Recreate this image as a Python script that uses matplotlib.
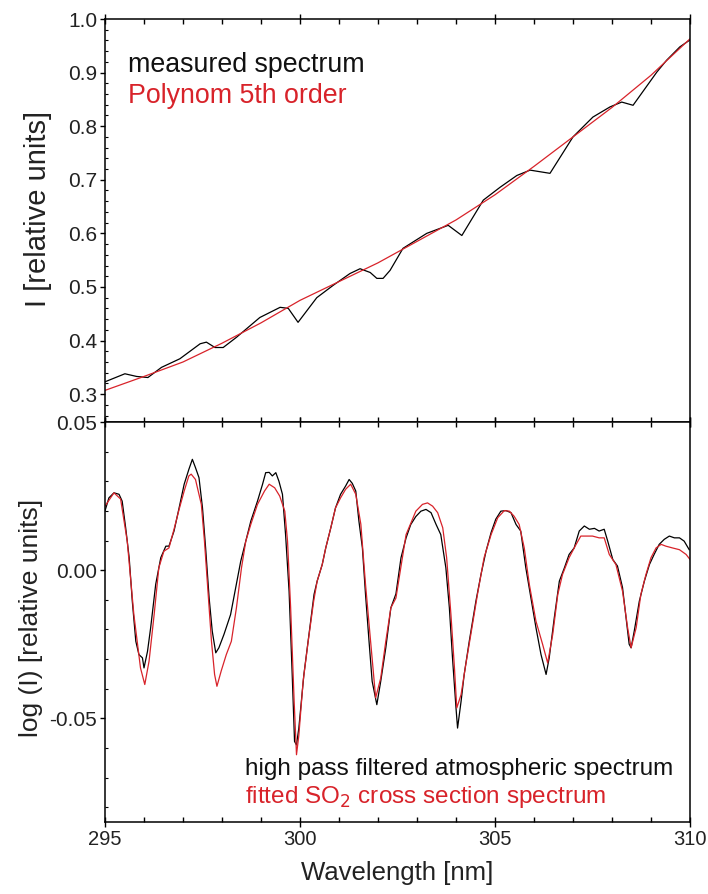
#!/usr/bin/env python3
import matplotlib
matplotlib.use('Agg')
import matplotlib.pyplot as plt
from matplotlib.ticker import MultipleLocator, FormatStrFormatter

plt.rcParams['font.family'] = ['Liberation Sans', 'DejaVu Sans']
plt.rcParams['axes.unicode_minus'] = False

RED = '#d8232a'

# top panel: measured spectrum and 5th order polynomial
meas_wl = [295.0, 295.51, 295.81, 296.1, 296.45, 296.92, 297.44, 297.6, 297.82,
           298.03, 298.37, 298.97, 299.49, 299.7, 299.95, 300.43, 300.85, 301.28,
           301.54, 301.8, 301.97, 302.13, 302.31, 302.64, 303.25, 303.8, 304.15,
           304.7, 305.13, 305.56, 305.9, 306.41, 307.0, 307.51, 307.95, 308.25,
           308.54, 309.15, 309.4, 309.74, 310.0]
meas_i = [0.323, 0.338, 0.333, 0.331, 0.350, 0.366, 0.394, 0.397, 0.387,
          0.387, 0.406, 0.443, 0.462, 0.460, 0.434, 0.480, 0.503, 0.525,
          0.534, 0.527, 0.516, 0.516, 0.531, 0.572, 0.600, 0.615, 0.596,
          0.662, 0.686, 0.708, 0.718, 0.712, 0.780, 0.817, 0.836, 0.845,
          0.839, 0.901, 0.923, 0.948, 0.961]

poly_wl = [295, 296, 297, 298, 299, 300, 301, 302, 303, 304, 305, 306, 307, 308, 309, 310]
poly_i = [0.307, 0.333, 0.360, 0.395, 0.433, 0.475, 0.510, 0.545, 0.585, 0.625,
          0.672, 0.725, 0.780, 0.835, 0.895, 0.963]

# bottom panel: high pass filtered atmospheric spectrum
atm_wl = [295.0, 295.1, 295.23, 295.36, 295.44, 295.53, 295.62, 295.7, 295.79, 295.87,
          295.96, 296.0, 296.09, 296.17, 296.3, 296.43, 296.56, 296.64, 296.77, 296.9,
          297.03, 297.15, 297.24, 297.32, 297.41, 297.5, 297.58, 297.67, 297.75, 297.84,
          297.92, 298.05, 298.22, 298.35, 298.48, 298.61, 298.74, 298.91, 299.04, 299.12,
          299.21, 299.29, 299.38, 299.46, 299.55, 299.63, 299.72, 299.8, 299.86, 299.91,
          299.97, 300.1, 300.23, 300.36, 300.44, 300.57, 300.66, 300.79, 300.91, 301.04,
          301.17, 301.26, 301.34, 301.43, 301.51, 301.6, 301.68, 301.77, 301.85, 301.97,
          302.07, 302.2, 302.33,
          302.46, 302.59, 302.72, 302.84, 302.97, 303.1, 303.23, 303.36, 303.49, 303.61,
          303.74, 303.83, 303.91, 304.0, 304.04, 304.13, 304.21, 304.34, 304.51, 304.64,
          304.77, 304.9, 305.02, 305.15, 305.28, 305.41, 305.54, 305.66, 305.79, 305.92,
          306.05, 306.18, 306.31, 306.39, 306.52, 306.65, 306.78, 306.9, 307.03, 307.16,
          307.29, 307.42, 307.55, 307.67, 307.8, 307.89, 308.02, 308.14, 308.27, 308.36,
          308.44, 308.49, 308.57, 308.7, 308.83, 308.96, 309.08, 309.21, 309.34, 309.47,
          309.6, 309.73, 309.85, 309.98]
atm_log = [0.020, 0.0244, 0.0261, 0.0256, 0.0233, 0.0143, 0.0042, -0.0105, -0.024, -0.0285,
           -0.0296, -0.033, -0.0274, -0.0195, -0.0048, 0.0042, 0.0081, 0.0081, 0.0132, 0.021,
           0.029, 0.034, 0.0374, 0.0346, 0.0312, 0.021, 0.0075, -0.0094, -0.0206, -0.0279,
           -0.0262, -0.0217, -0.015, -0.006, 0.003, 0.0098, 0.0166, 0.0233, 0.029, 0.0329,
           0.033, 0.0318, 0.0329, 0.030, 0.0256, 0.012, -0.0071, -0.0352, -0.0578, -0.059,
           -0.0533, -0.0352, -0.0217, -0.0082, -0.0037, 0.0019, 0.0075, 0.0143, 0.021, 0.0256,
           0.0284, 0.0306, 0.0293, 0.0267, 0.0166, 0.0075, -0.0082, -0.024, -0.0375, -0.0454,
           -0.0375, -0.0262, -0.0127,
           -0.008, 0.0042, 0.0109, 0.0154, 0.0181, 0.0199, 0.0205, 0.0194, 0.0154, 0.012,
           0.0008, -0.0127, -0.0296, -0.0465, -0.0533, -0.0443, -0.0352, -0.024, -0.0105, -0.0015,
           0.0064, 0.0127, 0.0172, 0.0199, 0.0201, 0.0194, 0.0154, 0.0132, 0.0008, -0.0094,
           -0.0194, -0.0285, -0.0352, -0.0296, -0.0161, -0.0037, 0.0008, 0.0053, 0.0075, 0.0132,
           0.0149, 0.0138, 0.0141, 0.0132, 0.0138, 0.0098, 0.0036, 0.0014, -0.0059, -0.0161,
           -0.025, -0.0262, -0.0206, -0.0105, -0.0037, 0.0019, 0.0053, 0.0087, 0.0104, 0.0115,
           0.0109, 0.0109, 0.0098, 0.0069]

# bottom panel: fitted SO2 cross section
so2_wl = [295.0, 295.23, 295.4, 295.57, 295.74, 295.91, 296.02, 296.13, 296.26, 296.38,
          296.51, 296.64, 296.77, 296.9, 297.03, 297.15, 297.21, 297.32, 297.47, 297.55,
          297.64, 297.73, 297.81, 297.87, 297.98, 298.11, 298.24, 298.37, 298.5, 298.61,
          298.74, 298.91, 299.09, 299.21, 299.35, 299.48, 299.61, 299.68, 299.76, 299.85,
          299.91, 299.97, 300.08, 300.21, 300.35, 300.44, 300.57, 300.66, 300.79, 300.91,
          301.04, 301.17, 301.3, 301.43, 301.56, 301.68, 301.81, 301.94, 302.07, 302.2,
          302.33, 302.46, 302.72, 302.97, 303.14, 303.27, 303.4, 303.53, 303.66, 303.76,
          303.87, 303.96, 304.02, 304.13, 304.25, 304.38, 304.55, 304.72, 304.9, 305.07,
          305.24, 305.37, 305.49, 305.62, 305.75, 305.88, 306.05, 306.22, 306.35, 306.48,
          306.61, 306.73, 306.9, 307.08, 307.2, 307.33, 307.5, 307.67, 307.8, 307.93,
          308.1, 308.27, 308.4, 308.49, 308.62, 308.74, 308.87, 309.0, 309.13, 309.26,
          309.38, 309.55, 309.73, 309.9, 310.0]
so2_log = [0.0216, 0.0261, 0.024, 0.0098, -0.015, -0.033, -0.0386, -0.0307, -0.015, 0.0008,
           0.0064, 0.0075, 0.0138, 0.0205, 0.0267, 0.0318, 0.0324, 0.0306, 0.0222, 0.0098,
           -0.0071, -0.024, -0.0352, -0.0392, -0.034, -0.0285, -0.024, -0.0127, 0.0008, 0.0098,
           0.0155, 0.0222, 0.0267, 0.029, 0.0278, 0.025, 0.0199, 0.0098, -0.0127, -0.0443,
           -0.0623, -0.0558, -0.0375, -0.024, -0.0105, -0.0037, 0.0019, 0.0075, 0.0143, 0.021,
           0.0244, 0.0273, 0.029, 0.0256, 0.0155, -0.0048, -0.024, -0.0431, -0.0364, -0.024,
           -0.0127, -0.0094, 0.012, 0.0199, 0.0222, 0.0227, 0.0216, 0.0194, 0.0143, 0.0042,
           -0.015, -0.0329, -0.0465, -0.042, -0.0319, -0.0217, -0.0082, 0.0042, 0.012, 0.0177,
           0.0201, 0.0199, 0.0182, 0.0154, 0.0075, -0.0048, -0.0172, -0.025, -0.0313, -0.0217,
           -0.0082, -0.0015, 0.0042, 0.0087, 0.0115, 0.0115, 0.0115, 0.0109, 0.0109, 0.0053,
           0.0019, -0.0071, -0.0194, -0.0262, -0.0194, -0.0082, -0.0015, 0.0042, 0.0075, 0.0087,
           0.0081, 0.0075, 0.0069, 0.0053, 0.0036]

W, H = 708, 894


def style_axes(ax):
    ax.set_xlim(295, 310)
    ax.xaxis.set_major_locator(MultipleLocator(5))
    ax.xaxis.set_minor_locator(MultipleLocator(1))
    ax.tick_params(axis='x', which='major', direction='inout', length=7, width=1,
                   top=True, bottom=True, labelsize=14.5, pad=2, labelcolor='#222')
    ax.tick_params(axis='x', which='minor', direction='in', length=3.5, width=1,
                   top=True, bottom=True)
    ax.tick_params(axis='y', which='major', direction='out', length=3.5, width=1,
                   labelsize=15, pad=2, labelcolor='#222')
    ax.tick_params(axis='y', which='minor', direction='in', length=2.5, width=0.8)
    for s in ax.spines.values():
        s.set_linewidth(1.1)


fig = plt.figure(figsize=(W / 100, H / 100), dpi=100)
left, right = 105 / W, 690 / W
ax1 = fig.add_axes([left, 1 - 422 / H, right - left, (422 - 19) / H])
ax2 = fig.add_axes([left, 1 - 822 / H, right - left, (822 - 422) / H])

ax1.plot(meas_wl, meas_i, color='black', lw=0.9)
ax1.plot(poly_wl, poly_i, color=RED, lw=0.9)
ax1.set_ylim(0.248, 1.0)
ax1.yaxis.set_major_locator(MultipleLocator(0.1))
ax1.yaxis.set_minor_locator(MultipleLocator(0.02))
ax1.yaxis.set_major_formatter(FormatStrFormatter('%.1f'))
style_axes(ax1)
ax1.tick_params(axis='x', labelbottom=False)
ax1.set_yticks([0.3, 0.4, 0.5, 0.6, 0.7, 0.8, 0.9, 1.0])

ax2.plot(atm_wl, atm_log, color='black', lw=0.9)
ax2.plot(so2_wl, so2_log, color=RED, lw=0.9)
ax2.set_ylim(-0.085, 0.05)
ax2.yaxis.set_major_locator(MultipleLocator(0.05))
ax2.yaxis.set_minor_locator(MultipleLocator(0.01))
ax2.yaxis.set_major_formatter(FormatStrFormatter('%.2f'))
style_axes(ax2)
ax2.xaxis.set_major_formatter(FormatStrFormatter('%d'))

fig.text(38 / W, 1 - 209 / H, 'I [relative units]', rotation=90,
         ha='center', va='center', fontsize=21, color='#222')
fig.text(31 / W, 1 - 618 / H, 'log (I) [relative units]', rotation=90,
         ha='center', va='center', fontsize=19, color='#222')
fig.text(397 / W, 1 - 873 / H, 'Wavelength [nm]', ha='center', va='center',
         fontsize=18.5, color='#222')

fig.text(128 / W, 1 - 72 / H, 'measured spectrum', ha='left', va='baseline',
         fontsize=19.3, color='#111')
fig.text(128 / W, 1 - 103 / H, 'Polynom 5th order', ha='left', va='baseline',
         fontsize=19.3, color=RED)
fig.text(245 / W, 1 - 775 / H, 'high pass filtered atmospheric spectrum',
         ha='left', va='baseline', fontsize=17.5, color='#111')
fig.text(245 / W, 1 - 803 / H, 'fitted SO$_{2}$ cross section spectrum',
         ha='left', va='baseline', fontsize=17.5, color=RED)

fig.savefig('out.png', dpi=100)
